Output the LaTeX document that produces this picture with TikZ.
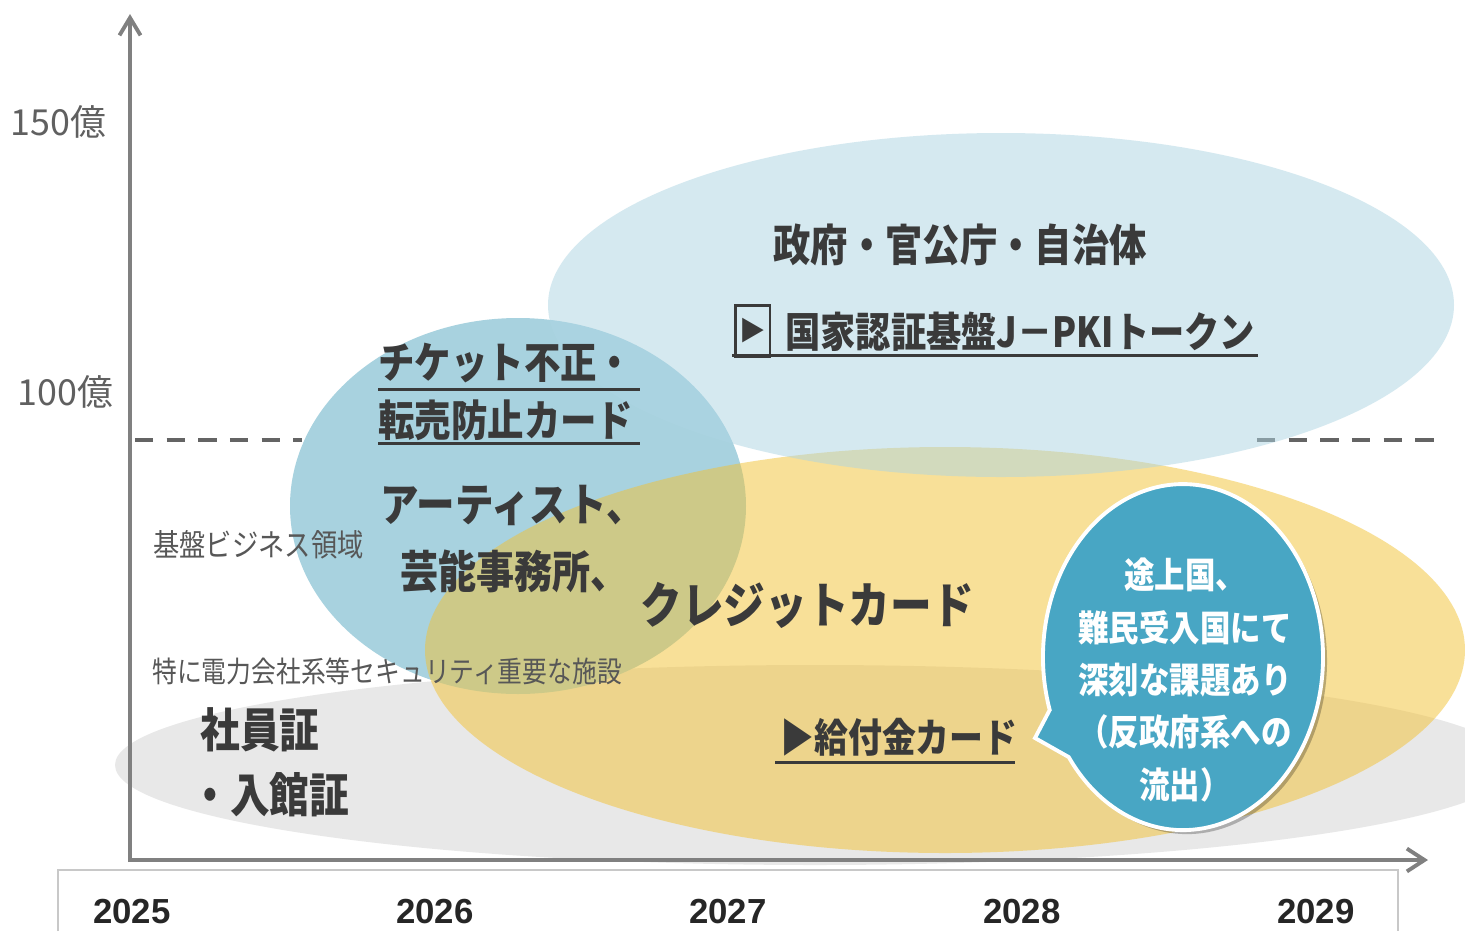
\documentclass[tikz,border=0pt]{standalone}
\usepackage{fontspec}
\setmainfont{Noto Sans CJK JP}
\newfontfamily\jp[FakeStretch=0.85]{Noto Sans CJK JP}
\newfontfamily\jpw{Noto Sans CJK JP}
\newfontfamily\yrfont{Liberation Sans}
\newcommand\jpm{\jp\bfseries}
\usetikzlibrary{arrows.meta}
\definecolor{ink}{RGB}{58,58,58}
\definecolor{graytxt}{RGB}{96,96,96}
\definecolor{axisgray}{RGB}{128,128,128}
\definecolor{dashgray}{RGB}{100,100,100}
\definecolor{grayfill}{RGB}{232,232,232}
\definecolor{midblue}{RGB}{168,210,223}
\definecolor{yel}{RGB}{243,194,50}
\definecolor{lightblue}{RGB}{173,213,227}
\definecolor{bubblue}{RGB}{72,166,196}
\definecolor{boxgray}{RGB}{200,200,200}
\newcommand\fsz[1]{\fontsize{#1}{#1}\selectfont}
\begin{document}
\begin{tikzpicture}[x=0.02cm,y=-0.02cm,
  lab/.style={inner sep=0pt, anchor=west, text=ink},
  uline/.style={ink, line width=1.7pt},
  axisline/.style={axisgray, line width=2.3pt},
  yrlab/.style={inner sep=0pt, text=black!85, font=\yrfont\bfseries\fsz{19.8pt}},
  axlab/.style={inner sep=0pt, anchor=west, text=graytxt, font=\jpw\fsz{20.4pt}},
]
\useasboundingbox (0,0) rectangle (1465,931);
\fill[white] (0,0) rectangle (1465,931);

% dashed 100 line (visible parts)
\coordinate (d1a) at (135,440); \coordinate (d1b) at (302,440);
\coordinate (d2a) at (1257,440); \coordinate (d2b) at (1435,440);
\draw[dashgray, line width=2.6pt, dash pattern=on 10.5pt off 7.5pt] (d1a) -- (d1b);
\draw[dashgray, line width=2.6pt, dash pattern=on 10.5pt off 7.5pt] (d2a) -- (d2b);

% ellipses
\fill[grayfill] (815,765) ellipse [x radius=700, y radius=100];
\fill[midblue] (518,506) ellipse [x radius=228, y radius=188];
\fill[yel, opacity=0.5] (945,650) ellipse [x radius=520, y radius=203];
\fill[lightblue, opacity=0.5] (1001,305) ellipse [x radius=453, y radius=172];

% speech bubble
\fill[black, opacity=0.25] (1053.7,714) arc[start angle=162.2, end angle=504.7, x radius=140, y radius=173] -- (1039,742) -- cycle;
\path[fill=bubblue, draw=white, line width=2.2pt] (1049.7,710) arc[start angle=162.2, end angle=504.7, x radius=140, y radius=173] -- (1035,738) -- cycle;

% axes
\coordinate (O) at (128,860);
\coordinate (ytop) at (130,14);
\coordinate (ybot) at (130,862);
\coordinate (xend) at (1428,860);
\draw[axisline, -{Straight Barb[length=10pt,width=12pt,line width=2.2pt]}] (ybot) -- (ytop);
\draw[axisline, -{Straight Barb[length=10pt,width=13pt,line width=2.2pt]}] (O) -- (xend);

% axis labels
\node[axlab] (l150) at (10,122) {150億};
\node[axlab] (l100) at (17,392) {100億};

% year box
\coordinate (b1) at (58,931); \coordinate (b2) at (58,870);
\coordinate (b3) at (1398,870); \coordinate (b4) at (1398,931);
\draw[boxgray, line width=1pt] (b1) -- (b2) -- (b3) -- (b4);
\node[yrlab] (y25) at (132,912) {2025};
\node[yrlab] (y26) at (435,912) {2026};
\node[yrlab] (y27) at (728,912) {2027};
\node[yrlab] (y28) at (1022,912) {2028};
\node[yrlab] (y29) at (1316,912) {2029};

% government
\node[lab, font=\jpm\fsz{25pt}] (gov) at (773,245) {政府・官公庁・自治体};
\node[draw=ink, line width=1.7pt, inner sep=0pt, minimum width=0.7cm, minimum height=1.02cm, text=ink, font=\jpw\fsz{15pt}] (pkibox) at (752.5,331) {▶};
\node[lab, font=\jpm\fsz{23.6pt}] (pki) at (785,332) {国家認証基盤J－PKIトークン};
\coordinate (u1a) at (732,355); \coordinate (u1b) at (1258,355);
\draw[uline] (u1a) -- (u1b);

% ticket
\node[lab, font=\jpm\fsz{24.4pt}] (tk1) at (378,363) {チケット不正・};
\node[lab, font=\jpm\fsz{24.4pt}] (tk2) at (378,420) {転売防止カード};
\coordinate (u2a) at (378,389); \coordinate (u2b) at (640,389);
\coordinate (u3a) at (378,443); \coordinate (u3b) at (640,443);
\draw[uline] (u2a) -- (u2b);
\draw[uline] (u3a) -- (u3b);

% artist / credit
\node[lab, font=\jpm\fsz{25.8pt}] (art) at (380,505) {アーティスト、};
\node[lab, font=\jpm\fsz{25.5pt}] (gei) at (400,572) {芸能事務所、};
\node[lab, font=\jpm\fsz{27.9pt}] (cc) at (640,605) {クレジットカード};

% small gray labels
\node[lab, text=ink!85, font=\jp\fsz{17.6pt}] (kiban) at (153,545) {基盤ビジネス領域};
\node[lab, text=ink!85, font=\jp\fsz{16.6pt}] (toku) at (152,671) {特に電力会社系等セキュリティ重要な施設};

% employee id
\node[lab, font=\jpm\fsz{26.6pt}] (sha) at (200,730) {社員証};
\node[lab, font=\jpm\fsz{26.6pt}] (nyu) at (190,795) {・入館証};

% benefit card
\node[lab, font=\jpm\fsz{22.7pt}] (kyu) at (780,737) {▶給付金カード};
\coordinate (u4a) at (775,762); \coordinate (u4b) at (1015,762);
\draw[uline] (u4a) -- (u4b);

% bubble text
\node[inner sep=0pt, align=center, text=white, font=\jpm\fontsize{20.4pt}{29.8pt}\selectfont] (bub) at (1185,680)
  {途上国、\\難民受入国にて\\深刻な課題あり\\（反政府系への\\流出）};
\end{tikzpicture}
\end{document}
